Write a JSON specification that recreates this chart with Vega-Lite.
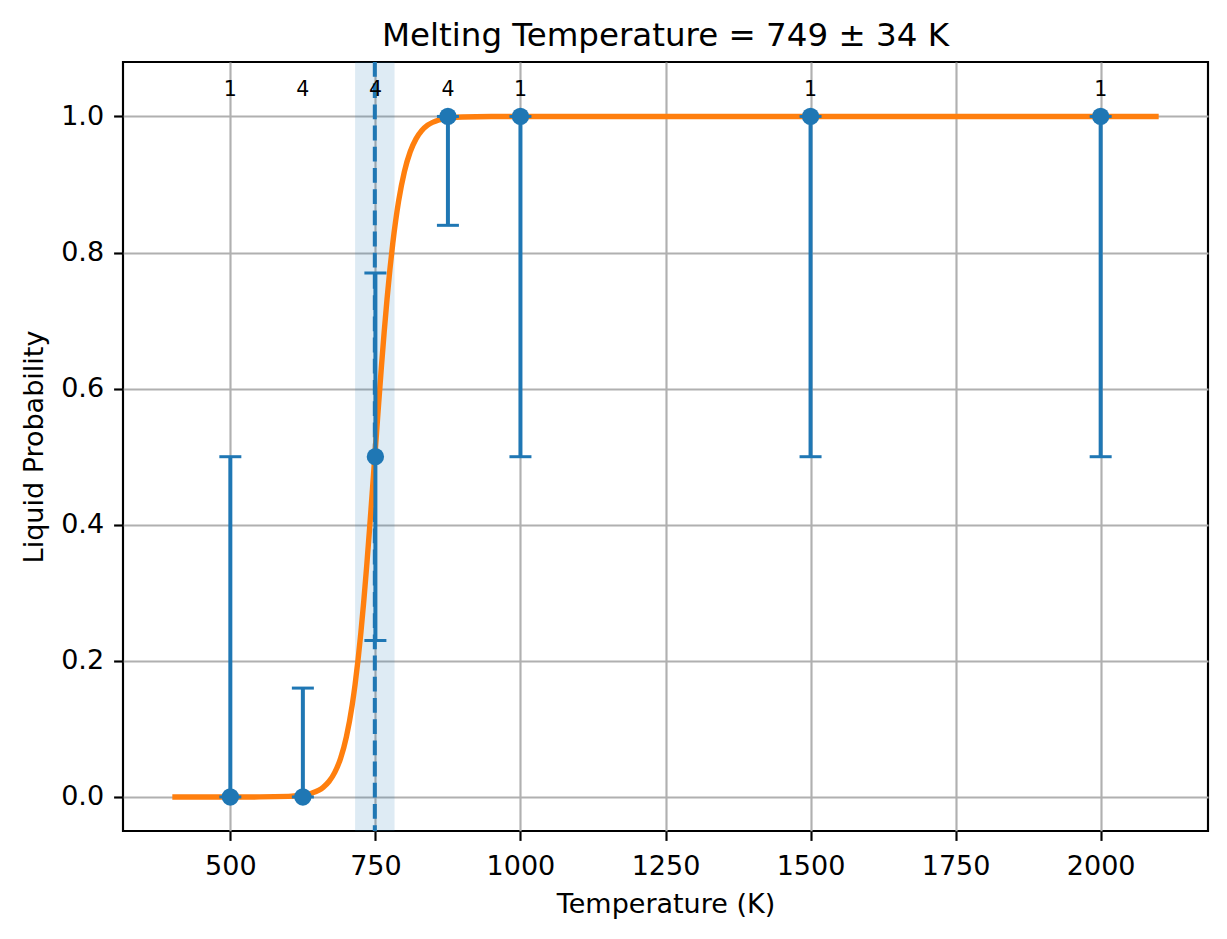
{
  "$schema": "https://vega.github.io/schema/vega-lite/v6.json",
  "description": "Liquid probability vs temperature with logistic fit",
  "autosize": {"type": "none"},
  "width": 1085,
  "height": 769,
  "padding": {"left": 123, "top": 62, "right": 19, "bottom": 108},
  "background": "white",
  "config": {
    "font": "DejaVu Sans",
    "view": {"stroke": "black", "strokeWidth": 2.15},
    "axis": {
      "domain": false,
      "grid": true,
      "gridColor": "#b0b0b0",
      "gridWidth": 2.15,
      "tickColor": "black",
      "tickSize": 9.4,
      "tickWidth": 2.15,
      "labelFont": "DejaVu Sans",
      "labelFontSize": 27,
      "labelColor": "black",
      "titleFont": "DejaVu Sans",
      "titleFontSize": 27,
      "titleFontWeight": "normal",
      "titleColor": "black"
    }
  },
  "title": {
    "text": "Melting Temperature = 749 ± 34 K",
    "font": "DejaVu Sans",
    "fontSize": 32.5,
    "fontWeight": "normal",
    "color": "black",
    "anchor": "middle",
    "frame": "group",
    "offset": 8
  },
  "datasets": {
    "fit": [
      {"T": 400, "p": 0.0},
      {"T": 500, "p": 0.000007},
      {"T": 550, "p": 0.000077},
      {"T": 600, "p": 0.00083},
      {"T": 620, "p": 0.00214},
      {"T": 640, "p": 0.00554},
      {"T": 660, "p": 0.0142},
      {"T": 670, "p": 0.0227},
      {"T": 680, "p": 0.0361},
      {"T": 690, "p": 0.0568},
      {"T": 700, "p": 0.0884},
      {"T": 710, "p": 0.1351},
      {"T": 715, "p": 0.1653},
      {"T": 720, "p": 0.2009},
      {"T": 725, "p": 0.2418},
      {"T": 730, "p": 0.2881},
      {"T": 735, "p": 0.3392},
      {"T": 740, "p": 0.3944},
      {"T": 745, "p": 0.4526},
      {"T": 749, "p": 0.5},
      {"T": 755, "p": 0.571},
      {"T": 760, "p": 0.6281},
      {"T": 765, "p": 0.6818},
      {"T": 770, "p": 0.7311},
      {"T": 775, "p": 0.7752},
      {"T": 780, "p": 0.8139},
      {"T": 790, "p": 0.8756},
      {"T": 800, "p": 0.919},
      {"T": 810, "p": 0.9481},
      {"T": 820, "p": 0.9671},
      {"T": 830, "p": 0.9793},
      {"T": 840, "p": 0.9871},
      {"T": 860, "p": 0.995},
      {"T": 880, "p": 0.998},
      {"T": 900, "p": 0.9992},
      {"T": 950, "p": 0.99993},
      {"T": 1000, "p": 1.0},
      {"T": 2100, "p": 1.0}
    ],
    "obs": [
      {"T": 500, "p": 0.0, "lo": 0.0, "hi": 0.5, "n": "1"},
      {"T": 625, "p": 0.0, "lo": 0.0, "hi": 0.16, "n": "4"},
      {"T": 750, "p": 0.5, "lo": 0.23, "hi": 0.77, "n": "4"},
      {"T": 875, "p": 1.0, "lo": 0.84, "hi": 1.0, "n": "4"},
      {"T": 1000, "p": 1.0, "lo": 0.5, "hi": 1.0, "n": "1"},
      {"T": 1500, "p": 1.0, "lo": 0.5, "hi": 1.0, "n": "1"},
      {"T": 2000, "p": 1.0, "lo": 0.5, "hi": 1.0, "n": "1"}
    ],
    "tm": [
      {"Tm": 749, "lo": 715, "hi": 783}
    ]
  },
  "layer": [
    {
      "data": {"name": "tm"},
      "mark": {"type": "rect", "color": "#1f77b4", "opacity": 0.15},
      "encoding": {
        "x": {
          "field": "lo",
          "type": "quantitative",
          "scale": {"domain": [315, 2185], "nice": false, "zero": false},
          "axis": {
            "values": [500, 750, 1000, 1250, 1500, 1750, 2000],
            "format": "d",
            "title": "Temperature (K)",
            "labelPadding": 13,
            "titlePadding": 12
          }
        },
        "x2": {"field": "hi"}
      }
    },
    {
      "data": {"name": "tm"},
      "mark": {"type": "rule", "color": "#1f77b4", "strokeWidth": 4, "strokeDash": [14.8, 6.4]},
      "encoding": {
        "x": {"field": "Tm", "type": "quantitative"}
      }
    },
    {
      "data": {"name": "fit"},
      "mark": {"type": "line", "color": "#ff7f0e", "strokeWidth": 5.4, "interpolate": "monotone"},
      "encoding": {
        "x": {"field": "T", "type": "quantitative"},
        "y": {
          "field": "p",
          "type": "quantitative",
          "scale": {"domain": [-0.05, 1.08], "nice": false, "zero": false},
          "axis": {
            "values": [0, 0.2, 0.4, 0.6, 0.8, 1.0],
            "format": ".1f",
            "title": "Liquid Probability",
            "labelPadding": 10,
            "titlePadding": 12
          }
        }
      }
    },
    {
      "data": {"name": "obs"},
      "mark": {"type": "rule", "color": "#1f77b4", "strokeWidth": 4},
      "encoding": {
        "x": {"field": "T", "type": "quantitative"},
        "y": {"field": "lo", "type": "quantitative"},
        "y2": {"field": "hi"}
      }
    },
    {
      "data": {"name": "obs"},
      "mark": {"type": "tick", "orient": "horizontal", "color": "#1f77b4", "opacity": 1, "size": 22, "thickness": 3},
      "encoding": {
        "x": {"field": "T", "type": "quantitative"},
        "y": {"field": "lo", "type": "quantitative"}
      }
    },
    {
      "data": {"name": "obs"},
      "mark": {"type": "tick", "orient": "horizontal", "color": "#1f77b4", "opacity": 1, "size": 22, "thickness": 3},
      "encoding": {
        "x": {"field": "T", "type": "quantitative"},
        "y": {"field": "hi", "type": "quantitative"}
      }
    },
    {
      "data": {"name": "obs"},
      "mark": {"type": "point", "filled": true, "shape": "circle", "color": "#1f77b4", "opacity": 1, "size": 300},
      "encoding": {
        "x": {"field": "T", "type": "quantitative"},
        "y": {"field": "p", "type": "quantitative"}
      }
    },
    {
      "data": {"name": "obs"},
      "mark": {"type": "text", "font": "DejaVu Sans", "fontSize": 20.5, "color": "black", "align": "center", "baseline": "alphabetic"},
      "encoding": {
        "x": {"field": "T", "type": "quantitative"},
        "y": {"datum": 1.03, "type": "quantitative"},
        "text": {"field": "n"}
      }
    }
  ]
}
